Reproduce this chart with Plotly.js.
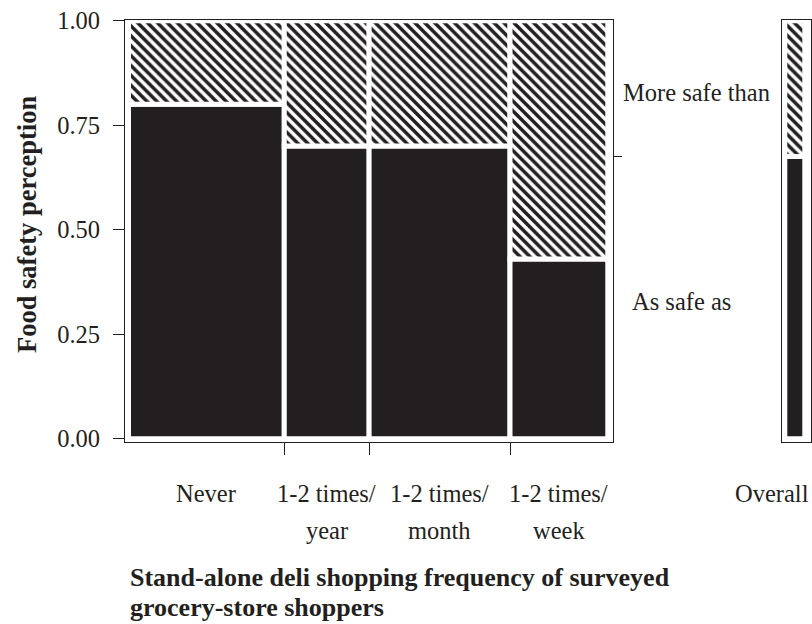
<!DOCTYPE html>
<html>
<head>
<meta charset="utf-8">
<script src="https://cdn.plot.ly/plotly-3.0.1.min.js"></script>
<style>html,body{margin:0;padding:0;background:#fff}#chart{width:812px;height:624px}</style>
</head>
<body>
<div id="chart"></div>
<script>
// ---- data ----
const categories = ["Never", "1-2 times/\nyear", "1-2 times/\nmonth", "1-2 times/\nweek"];
const shares = [0.325, 0.177, 0.294, 0.204];          // bar widths (share of shoppers)
const asSafeAs = [0.80, 0.70, 0.70, 0.43];            // proportion "As safe as"
const overallAsSafeAs = 0.675;                         // overall proportion "As safe as"
const levels = ["As safe as", "More safe than"];
const overallLabel = "Overall";
const yTickVals = [0, 0.25, 0.5, 0.75, 1];
const yTickText = ["0.00", "0.25", "0.50", "0.75", "1.00"];
const xTitle = "Stand-alone deli shopping frequency of surveyed\ngrocery-store shoppers";
const yTitle = "Food safety perception";

// ---- styles ----
const INK = "#231f20";
const FONT = "Liberation Serif, Times New Roman, serif";
const FS = 24.5;
const W = 812, H = 624;
const px = v => v / W, py = v => 1 - v / H;

const lefts = [];
let acc = 0;
shares.forEach(s => { lefts.push(acc); acc += s; });
const centers = shares.map((s, i) => lefts[i] + s / 2);
const boundaries = lefts.slice(1);
const moreSafe = asSafeAs.map(v => 1 - v);

const hatch = {shape: "\\", fgcolor: INK, bgcolor: "white", size: 7, solidity: 0.5};
const edge = {color: "white", width: 5};

const traces = [
  {type: "bar", x: centers, y: asSafeAs, base: asSafeAs.map(() => 0), width: shares,
   marker: {color: INK, line: edge}, name: levels[0], xaxis: "x", yaxis: "y", hoverinfo: "skip"},
  {type: "bar", x: centers, y: moreSafe, base: asSafeAs, width: shares,
   marker: {color: "white", pattern: hatch, line: edge}, name: levels[1], xaxis: "x", yaxis: "y", hoverinfo: "skip"},
  {type: "bar", x: [0.447], y: [overallAsSafeAs], base: [0], width: [0.683],
   marker: {color: INK, line: edge}, name: levels[0], xaxis: "x2", yaxis: "y2", hoverinfo: "skip"},
  {type: "bar", x: [0.447], y: [1 - overallAsSafeAs], base: [overallAsSafeAs], width: [0.683],
   marker: {color: "white", pattern: hatch, line: edge}, name: levels[1], xaxis: "x2", yaxis: "y2", hoverinfo: "skip"},
  {type: "scatter", x: [], y: [], xaxis: "x", yaxis: "y3", showlegend: false, hoverinfo: "skip"}
];

const yRange = [-0.0072, 1.0017];
const yDomain = [py(441.7), py(20)];

const annotations = [];
categories.forEach((c, i) => {
  c.split("\n").forEach((line, j) => {
    annotations.push({text: line, xref: "x", yref: "paper", x: centers[i], y: py(j === 0 ? 493 : 530),
      xanchor: "center", yanchor: "middle", showarrow: false, font: {family: FONT, size: FS, color: INK}});
  });
});
annotations.push({text: overallLabel, xref: "paper", yref: "paper", x: px(811), y: py(493),
  xanchor: "right", yanchor: "middle", showarrow: false, font: {family: FONT, size: FS, color: INK}});
// level labels at the middle of the overall segments
const levelMid = [overallAsSafeAs / 2, (1 + overallAsSafeAs) / 2];
const levelX = [630, 621];
levels.forEach((l, i) => {
  annotations.push({text: l, xref: "paper", yref: "y", x: px(levelX[i]), y: levelMid[i], yshift: -4,
    xanchor: "left", yanchor: "middle", showarrow: false, font: {family: FONT, size: FS, color: INK}});
});
const titleLineY = [577, 607];
xTitle.split("\n").forEach((line, j) => {
  annotations.push({text: line, xref: "paper", yref: "paper", x: px(128), y: py(titleLineY[j]), xanchor: "left",
    yanchor: "middle", showarrow: false, font: {family: FONT, size: 26, color: INK, weight: "bold"}});
});
annotations.push({text: yTitle, xref: "paper", yref: "paper", x: px(27), y: py(225), xanchor: "center", yanchor: "middle",
  textangle: -90, showarrow: false, font: {family: FONT, size: 26.5, color: INK, weight: "bold"}});

const layout = {
  width: W, height: H, margin: {l: 0, r: 0, t: 0, b: 0}, paper_bgcolor: "white", plot_bgcolor: "white",
  showlegend: false, barmode: "overlay", font: {family: FONT, color: INK},
  xaxis: {domain: [px(125), px(613)], range: [-0.0073, 1.0109], tickvals: boundaries, ticktext: boundaries.map(() => ""),
    ticks: "outside", ticklen: 12, tickcolor: INK, tickwidth: 1, showline: true, mirror: true, linecolor: INK, linewidth: 1,
    showgrid: false, zeroline: false, fixedrange: true},
  yaxis: {domain: yDomain, range: yRange, tickvals: yTickVals, ticktext: yTickText, ticks: "outside", ticklen: 11,
    ticklabelstandoff: 8, tickcolor: INK, tickwidth: 1, showline: true, mirror: true, linecolor: INK, linewidth: 1,
    showgrid: false, zeroline: false, tickfont: {family: FONT, size: FS, color: INK}, fixedrange: true},
  yaxis3: {overlaying: "y", side: "right", anchor: "x", range: yRange, tickvals: [overallAsSafeAs], ticks: "outside",
    ticklen: 8, tickcolor: INK, showticklabels: false, showline: false, showgrid: false, zeroline: false},
  xaxis2: {domain: [px(781.7), px(811)], range: [0, 1], anchor: "y2", showticklabels: false, ticks: "",
    showline: true, mirror: true, linecolor: INK, linewidth: 1, showgrid: false, zeroline: false},
  yaxis2: {domain: yDomain, range: yRange, anchor: "x2", showticklabels: false, ticks: "",
    showline: true, mirror: true, linecolor: INK, linewidth: 1, showgrid: false, zeroline: false},
  annotations: annotations
};

Plotly.newPlot("chart", traces, layout, {staticPlot: true, displayModeBar: false});
</script>
</body>
</html>
